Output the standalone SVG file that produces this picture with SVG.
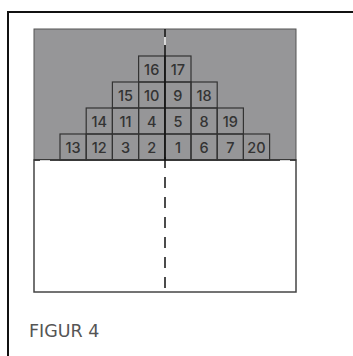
<svg xmlns="http://www.w3.org/2000/svg" width="353" height="356" viewBox="0 0 353 356">
<style>
.cell rect{fill:none;stroke:#333;stroke-width:1.2}
.cell text{font-family:Inter,"Open Sans",sans-serif;font-size:14.5px;font-weight:500;fill:#333;text-anchor:middle}
.frame{stroke:#111;stroke-width:2;fill:none}
.wm{stroke:#fff;stroke-width:1.6}
</style>
<rect width="353" height="356" fill="#fff"/>
<g id="frame">
<path class="frame" d="M8,356 V12 H353"/>
</g>
<g id="board">
<rect x="34" y="29" width="262" height="131" fill="#969698" stroke="#555" stroke-width="1"/>
<rect x="34" y="160" width="262" height="132" fill="#fff" stroke="#444" stroke-width="1.5"/>
<line x1="34" y1="160" x2="296" y2="160" stroke="#333" stroke-width="1.5"/>
<line class="wm" x1="40" y1="161" x2="50" y2="161"/>
<line class="wm" x1="280" y1="161" x2="290" y2="161"/>
</g>
<g id="cells">
<g class="cell" id="c16"><rect x="138.6" y="56" width="26.2" height="26"/><text x="151.7" y="75.3">16</text></g>
<g class="cell" id="c17"><rect x="164.8" y="56" width="26.2" height="26"/><text x="177.9" y="75.3">17</text></g>
<g class="cell" id="c15"><rect x="112.4" y="82" width="26.2" height="26"/><text x="125.5" y="101.3">15</text></g>
<g class="cell" id="c10"><rect x="138.6" y="82" width="26.2" height="26"/><text x="151.7" y="101.3">10</text></g>
<g class="cell" id="c9"><rect x="164.8" y="82" width="26.2" height="26"/><text x="177.9" y="101.3">9</text></g>
<g class="cell" id="c18"><rect x="191" y="82" width="26.2" height="26"/><text x="204.1" y="101.3">18</text></g>
<g class="cell" id="c14"><rect x="86.2" y="108" width="26.2" height="26"/><text x="99.3" y="127.3">14</text></g>
<g class="cell" id="c11"><rect x="112.4" y="108" width="26.2" height="26"/><text x="125.5" y="127.3">11</text></g>
<g class="cell" id="c4"><rect x="138.6" y="108" width="26.2" height="26"/><text x="151.7" y="127.3">4</text></g>
<g class="cell" id="c5"><rect x="164.8" y="108" width="26.2" height="26"/><text x="177.9" y="127.3">5</text></g>
<g class="cell" id="c8"><rect x="191" y="108" width="26.2" height="26"/><text x="204.1" y="127.3">8</text></g>
<g class="cell" id="c19"><rect x="217.2" y="108" width="26.2" height="26"/><text x="230.3" y="127.3">19</text></g>
<g class="cell" id="c13"><rect x="60" y="134" width="26.2" height="26"/><text x="73.1" y="153.3">13</text></g>
<g class="cell" id="c12"><rect x="86.2" y="134" width="26.2" height="26"/><text x="99.3" y="153.3">12</text></g>
<g class="cell" id="c3"><rect x="112.4" y="134" width="26.2" height="26"/><text x="125.5" y="153.3">3</text></g>
<g class="cell" id="c2"><rect x="138.6" y="134" width="26.2" height="26"/><text x="151.7" y="153.3">2</text></g>
<g class="cell" id="c1"><rect x="164.8" y="134" width="26.2" height="26"/><text x="177.9" y="153.3">1</text></g>
<g class="cell" id="c6"><rect x="191" y="134" width="26.2" height="26"/><text x="204.1" y="153.3">6</text></g>
<g class="cell" id="c7"><rect x="217.2" y="134" width="26.2" height="26"/><text x="230.3" y="153.3">7</text></g>
<g class="cell" id="c20"><rect x="243.4" y="134" width="26.2" height="26"/><text x="256.5" y="153.3">20</text></g>
</g>
<g id="centerline">
<line x1="165" y1="29" x2="165" y2="160" stroke="#111" stroke-width="1.5"/>
<line class="wm" x1="165" y1="37" x2="165" y2="45" stroke-width="1"/>
<line x1="165" y1="157" x2="165" y2="292" stroke="#111" stroke-width="1.5" stroke-dasharray="11 9"/>
</g>
<text id="caption" x="29" y="337" font-family="'DejaVu Sans', Verdana, sans-serif" font-size="17.5" fill="#555">FIGUR 4</text>
</svg>
